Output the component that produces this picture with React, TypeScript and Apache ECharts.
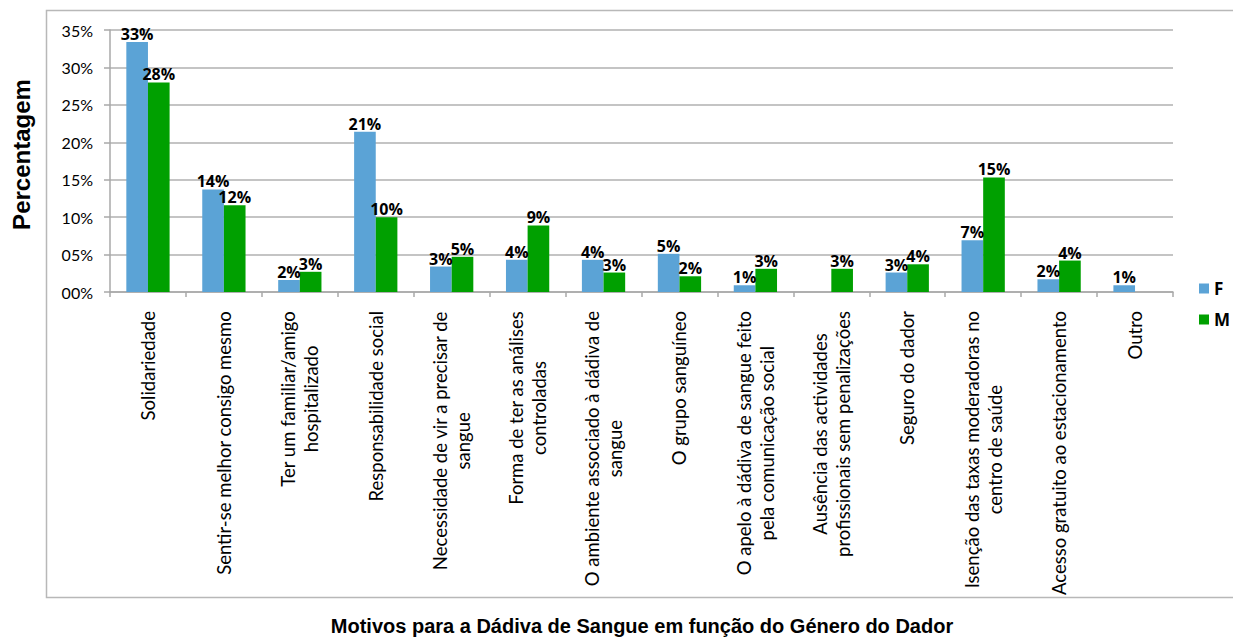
import React, { useEffect, useRef } from "react";
import * as echarts from "echarts";

const categories: string[] = [
  "Solidariedade",
  "Sentir-se melhor consigo mesmo",
  "Ter um familiar/amigo\nhospitalizado",
  "Responsabilidade social",
  "Necessidade de vir a precisar de\nsangue",
  "Forma de ter as análises\ncontroladas",
  "O ambiente associado à dádiva de\nsangue",
  "O grupo sanguíneo",
  "O apelo à dádiva de sangue feito\npela comunicação social",
  "Ausência das actividades\nprofissionais sem penalizações",
  "Seguro do dador",
  "Isenção das taxas moderadoras no\ncentro de saúde",
  "Acesso gratuito ao estacionamento",
  "Outro",
];

const valuesF: (number | null)[] = [33.4, 13.7, 1.6, 21.4, 3.4, 4.3, 4.3, 5.1, 0.9, null, 2.6, 6.9, 1.7, 0.9];
const valuesM: (number | null)[] = [28.0, 11.6, 2.7, 10.0, 4.7, 8.9, 2.6, 2.1, 3.1, 3.1, 3.7, 15.3, 4.2, null];

const seriesNames = ["F", "M"];
const yTicks = { min: 0, max: 35, interval: 5 };
const yAxisTitle = "Percentagem";
const xAxisTitle = "Motivos para a Dádiva de Sangue em função do Género do Dador";

export default function App() {
  const ref = useRef<HTMLDivElement>(null);
  useEffect(() => {
    if (!ref.current) return;
    const chart = echarts.init(ref.current, null, { renderer: "svg" });
    const labelCfg = {
      show: true,
      position: "top" as const,
      distance: 0,
      color: "#000",
      fontWeight: "bold" as const,
      fontSize: 16,
      fontFamily: "'Open Sans', sans-serif",
      formatter: (p: any) => Math.round(p.value) + "%",
    };
    chart.setOption({
      animation: false,
      grid: { left: 110, right: 60, top: 30, bottom: 346, outerBoundsMode: "none", containLabel: false },
      graphic: [
        {
          type: "rect",
          z: -10,
          shape: { x: 46.5, y: 10.5, width: 1200, height: 587 },
          style: { fill: "none", stroke: "#b8b8b8", lineWidth: 1.5 },
        },
        {
          type: "text",
          x: 642,
          y: 626,
          style: {
            text: xAxisTitle,
            align: "center",
            verticalAlign: "middle",
            fontFamily: "'Liberation Sans', Arial, sans-serif",
            fontWeight: "bold",
            fontSize: 20,
            fill: "#000",
          },
        },
      ],
      legend: {
        orient: "vertical",
        left: 1199,
        top: 280,
        padding: 0,
        icon: "rect",
        itemWidth: 10,
        itemHeight: 10,
        itemGap: 14,
        data: seriesNames,
        textStyle: {
          fontFamily: "'Open Sans', sans-serif",
          fontWeight: "bold",
          fontSize: 17,
          color: "#000",
        },
      },
      xAxis: {
        type: "category",
        data: categories,
        axisLine: { lineStyle: { color: "#a8a8a8", width: 1.5 } },
        axisTick: { show: true, length: 5, lineStyle: { color: "#a8a8a8", width: 1.5 } },
        axisLabel: {
          interval: 0,
          rotate: 90,
          margin: 19,
          color: "#000",
          formatter: (v: string) =>
            v
              .split("\n")
              .map((l) => "{c|" + l + "}")
              .join("\n"),
          rich: {
            c: {
              align: "center",
              fontSize: 18.5,
              lineHeight: 23,
              fontFamily: "Lato, sans-serif",
              color: "#000",
            },
          },
        },
      },
      yAxis: {
        type: "value",
        min: yTicks.min,
        max: yTicks.max,
        interval: yTicks.interval,
        name: yAxisTitle,
        nameLocation: "middle",
        nameRotate: 90,
        nameGap: 77,
        nameTextStyle: {
          fontFamily: "'Liberation Sans', Arial, sans-serif",
          fontWeight: "bold",
          fontSize: 24,
          color: "#000",
          padding: [0, 0, 0, 13],
        },
        axisLine: { show: true, lineStyle: { color: "#a8a8a8", width: 1.5 } },
        axisTick: { show: true, length: 6, lineStyle: { color: "#a8a8a8", width: 1.5 } },
        splitLine: { lineStyle: { color: "#b0b0b0", width: 1.6 } },
        axisLabel: {
          margin: 17,
          color: "#000",
          fontSize: 16,
          fontFamily: "Lato, sans-serif",
          formatter: (v: number) => String(v).padStart(2, "0") + "%",
        },
      },
      series: [
        {
          name: seriesNames[0],
          type: "bar",
          data: valuesF,
          itemStyle: { color: "#5ba3d6" },
          barGap: "0%",
          barCategoryGap: "43%",
          label: labelCfg,
        },
        {
          name: seriesNames[1],
          type: "bar",
          data: valuesM,
          itemStyle: { color: "#00a000" },
          barGap: "0%",
          barCategoryGap: "43%",
          label: labelCfg,
        },
      ],
    });
    return () => chart.dispose();
  }, []);
  return (
    <div
      ref={ref}
      style={{ position: "fixed", left: 0, top: 0, width: 1233, height: 638, background: "#fff" }}
    />
  );
}
